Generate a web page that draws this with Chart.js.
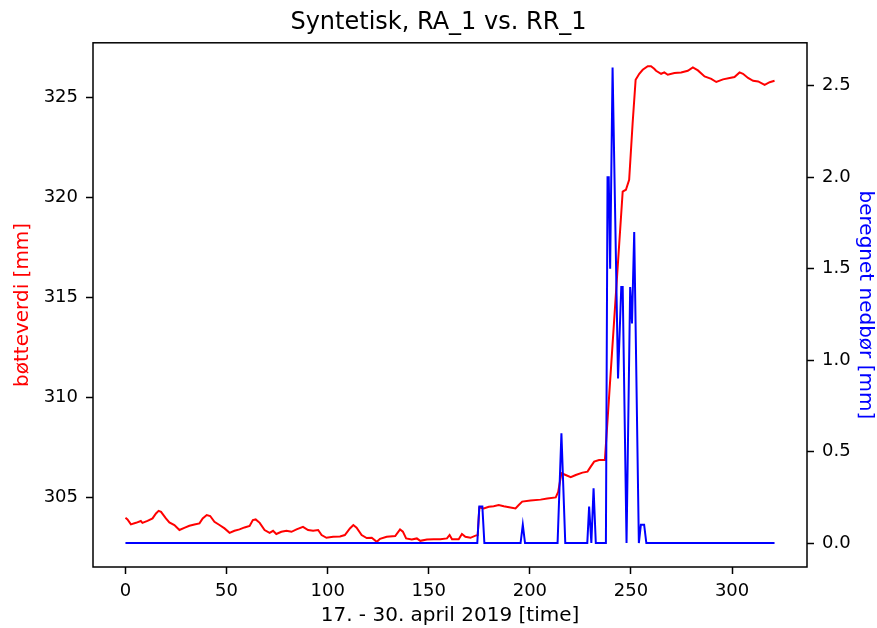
<!DOCTYPE html>
<html><head><meta charset="utf-8">
<script src="https://cdn.jsdelivr.net/npm/chart.js@4.4.1/dist/chart.umd.min.js"></script>
<style>html,body{margin:0;padding:0;background:#fff}</style>
</head><body>
<canvas id="c" width="877" height="628"></canvas>
<script>
// ---- data ----
const bucketHours = [0,1.0,2.7,5.2,7.6,8.4,10.9,13.4,15.1,16.4,17.6,20.0,21.7,24.2,26.7,29.1,31.6,34.1,36.6,38.2,40.2,41.9,44.0,46.5,49.0,51.5,53.9,56.4,58.9,61.4,63.0,64.4,66.4,68.8,71.3,73.0,74.6,77.1,79.6,82.1,84.6,87.8,90.3,92.8,95.3,97.0,99.4,102.7,106.1,108.5,111.0,112.7,114.3,116.8,119.3,121.8,124.3,125.9,129.2,133.4,135.8,137.2,138.8,141.6,144.1,145.8,149.1,152.4,155.7,159.0,160.3,161.5,164.8,166.4,168.1,170.6,173.1,174.2,175.0,177.2,179.7,182.1,184.6,187.1,190.4,192.9,194.5,196.2,200.3,205.3,208.6,212.8,214.0,215.6,217.7,220.2,222.7,226.0,228.5,230.1,231.8,234.2,237.1,245.9,247.5,249.1,250.8,252.3,254.1,255.8,258.3,259.9,261.5,262.4,264.9,266.5,268.2,271.5,274.8,278.1,280.6,283.1,286.4,289.7,292.2,295.5,298.8,301.2,303.7,305.4,307.9,310.4,312.9,316.1,318.6,321.0];
const bucketValues = [303.99,303.91,303.66,303.74,303.83,303.74,303.84,303.96,304.21,304.34,304.29,303.96,303.76,303.63,303.38,303.49,303.59,303.66,303.71,303.96,304.13,304.08,303.79,303.63,303.46,303.24,303.34,303.41,303.51,303.58,303.88,303.91,303.74,303.38,303.24,303.34,303.18,303.29,303.34,303.29,303.41,303.54,303.38,303.34,303.38,303.13,302.99,303.04,303.06,303.13,303.46,303.63,303.50,303.13,302.98,302.99,302.79,302.94,303.04,303.08,303.41,303.30,302.96,302.91,302.96,302.84,302.91,302.92,302.92,302.96,303.13,302.92,302.92,303.18,303.04,302.99,303.10,303.12,304.50,304.46,304.54,304.57,304.63,304.57,304.51,304.46,304.63,304.80,304.86,304.90,304.96,305.01,305.29,306.22,306.13,306.02,306.13,306.25,306.30,306.55,306.80,306.88,306.88,320.31,320.40,320.90,323.70,325.90,326.20,326.40,326.58,326.58,326.45,326.35,326.20,326.27,326.15,326.24,326.27,326.35,326.52,326.37,326.07,325.95,325.79,325.92,325.99,326.04,326.27,326.20,325.99,325.85,325.82,325.65,325.78,325.85];

const rainHours = [0,174.0,175.0,176.5,177.5,195.4,196.5,197.6,213.7,215.6,217.5,228.4,229.3,230.4,231.5,232.6,237.6,238.4,239.0,239.7,240.9,243.6,245.2,245.9,247.8,249.6,250.5,251.6,253.9,254.9,256.5,257.6,321.0];
const rainValues = [0,0,0.2,0.2,0,0,0.1,0,0,0.6,0,0,0.2,0,0.3,0,0,2.0,2.0,1.5,2.6,0.9,1.4,1.4,0,1.4,1.2,1.7,0,0.1,0.1,0,0];

const xTicks = [0,50,100,150,200,250,300];
const leftTicks = [305,310,315,320,325];
const rightTicks = [0,0.5,1.0,1.5,2.0,2.5];

const titleText = 'Syntetisk, RA_1 vs. RR_1';
const xLabel = '17. - 30. april 2019 [time]';
const leftLabel = 'bøtteverdi [mm]';
const rightLabel = 'beregnet nedbør [mm]';

// ---- chart ----
const FONT = 'DejaVu Sans';
const frame = {
  id: 'frame',
  afterDraw(chart) {
    const a = chart.chartArea, ctx = chart.ctx;
    ctx.save();
    ctx.strokeStyle = '#000';
    ctx.lineWidth = 1.5;
    ctx.strokeRect(a.left, a.top, a.right - a.left, a.bottom - a.top);
    ctx.restore();
  }
};
const tickStyle = {drawOnChartArea:false, drawTicks:true, tickLength:7, tickColor:'#000', tickWidth:1.5};

new Chart(document.getElementById('c'), {
  type: 'line',
  data: {
    datasets: [
      {label:'RR_1', yAxisID:'y2', data: rainHours.map((x,i)=>({x, y: rainValues[i]})),
       borderColor:'#0000ff', borderWidth:2, pointRadius:0, tension:0, fill:false},
      {label:'RA_1', yAxisID:'y', data: bucketHours.map((x,i)=>({x, y: bucketValues[i]})),
       borderColor:'#ff0000', borderWidth:2, pointRadius:0, tension:0, fill:false}
    ]
  },
  options: {
    responsive:false, animation:false, devicePixelRatio:1,
    layout:{padding:0},
    plugins:{
      legend:{display:false}, tooltip:{enabled:false},
      title:{display:true, text:titleText, color:'#000',
        font:{family:FONT, size:24, weight:'normal', lineHeight:1.2}, padding:{top:8, bottom:6}}
    },
    scales:{
      x:{type:'linear', position:'bottom', min:-16.05, max:337.05,
        grid:tickStyle, border:{display:false},
        afterBuildTicks: s => { s.ticks = xTicks.map(v=>({value:v})); },
        afterFit: s => { s.height = 61; },
        ticks:{color:'#000', font:{family:FONT, size:18}, padding:7, maxRotation:0, callback:v=>String(v)},
        title:{display:true, text:xLabel, color:'#000', font:{family:FONT, size:20, lineHeight:1.2}, padding:{top:0,bottom:0}}
      },
      y:{type:'linear', position:'left', min:301.53, max:327.75,
        grid:tickStyle, border:{display:false},
        afterBuildTicks: s => { s.ticks = leftTicks.map(v=>({value:v})); },
        afterFit: s => { s.width = 93; },
        ticks:{color:'#000', font:{family:FONT, size:18}, padding:8, callback:v=>String(v)},
        title:{display:true, text:leftLabel, color:'#ff0000', font:{family:FONT, size:20, lineHeight:1.2}, padding:{top:11,bottom:0}}
      },
      y2:{type:'linear', position:'right', min:-0.131, max:2.735,
        grid:tickStyle, border:{display:false},
        afterBuildTicks: s => { s.ticks = rightTicks.map(v=>({value:v})); },
        afterFit: s => { s.width = 70; },
        ticks:{color:'#000', font:{family:FONT, size:18}, padding:8, callback:v=>v.toFixed(1)},
        title:{display:true, text:rightLabel, color:'#0000ff', font:{family:FONT, size:20, lineHeight:1.2}, padding:{top:0,bottom:0}}
      }
    }
  },
  plugins:[frame]
});
</script>
</body></html>
